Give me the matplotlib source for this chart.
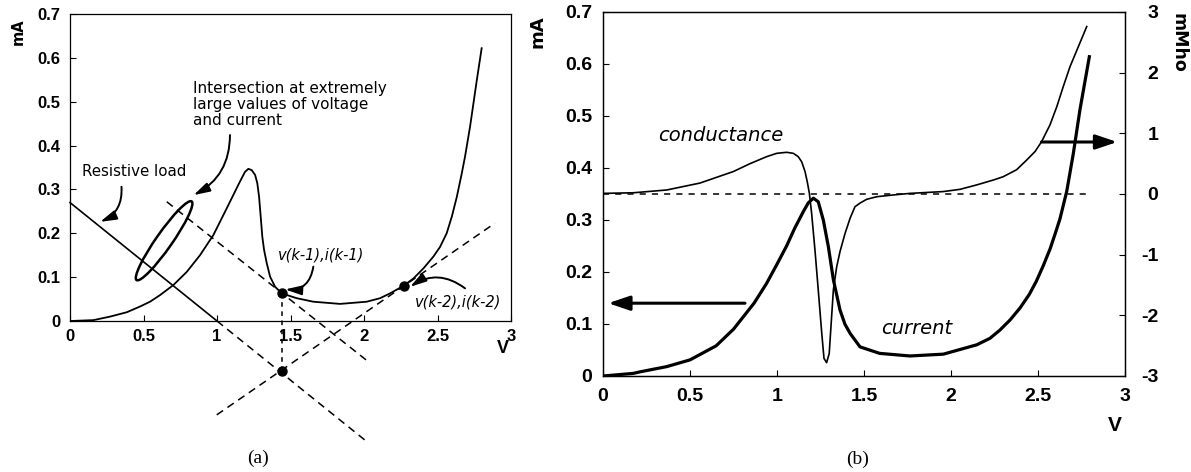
"""Tunnel-diode I-V curve: load-line iteration (a) and current/conductance (b)."""

import matplotlib

matplotlib.use("Agg")
import matplotlib.pyplot as plt
from matplotlib.patches import Ellipse
from matplotlib.transforms import ScaledTranslation

plt.rcParams["font.family"] = ["DejaVu Sans"]

# (a) diode current in mA against voltage in V
IV_A_V = [0.0, 0.159, 0.272, 0.386, 0.476, 0.544, 0.612, 0.703, 0.794, 0.884, 0.975,
          1.066, 1.156, 1.190, 1.213, 1.236, 1.259, 1.274, 1.286, 1.297, 1.308, 1.320,
          1.338, 1.361, 1.395, 1.440, 1.542, 1.655, 1.837, 2.018, 2.109, 2.177, 2.267,
          2.336, 2.404, 2.472, 2.517, 2.562, 2.597, 2.631, 2.665, 2.687, 2.721, 2.744,
          2.767, 2.80]
IV_A_I = [0.0, 0.002, 0.010, 0.020, 0.033, 0.044, 0.059, 0.082, 0.112, 0.150, 0.196,
          0.257, 0.318, 0.340, 0.347, 0.344, 0.333, 0.314, 0.283, 0.238, 0.192, 0.162,
          0.132, 0.101, 0.078, 0.063, 0.052, 0.044, 0.039, 0.044, 0.052, 0.063, 0.080,
          0.097, 0.120, 0.147, 0.169, 0.200, 0.238, 0.283, 0.337, 0.375, 0.443, 0.496,
          0.549, 0.622]

# load line (solid above the axis, dashed beyond) and the two companion lines
LOAD_V = [0.0, 1.0, 2.03]
LOAD_I = [0.27, 0.0, -0.278]
COMPANION1_V = [0.658, 2.03]
COMPANION1_I = [0.272, -0.093]
COMPANION2_V = [0.998, 2.89]
COMPANION2_I = [-0.214, 0.223]
STEP_V = [1.44, 1.44]
STEP_I = [0.063, -0.115]
POINT_V = [1.44, 2.27, 1.44]
POINT_I = [0.063, 0.080, -0.115]
ELLIPSE_CENTER = (0.64, 0.183)

# (b) current (mA) and small-signal conductance (mMho)
IV_B_V = [0.0, 0.174, 0.213, 0.366, 0.5, 0.65, 0.75, 0.868, 0.94, 1.0, 1.055, 1.10, 1.151,
          1.18, 1.209, 1.237, 1.266, 1.295, 1.324, 1.362, 1.39, 1.42, 1.477, 1.59, 1.764,
          1.956, 2.148, 2.224, 2.28, 2.34, 2.397, 2.45, 2.49, 2.53, 2.57, 2.60, 2.626,
          2.665, 2.703, 2.741, 2.795]
IV_B_I = [0.0, 0.005, 0.008, 0.018, 0.031, 0.058, 0.090, 0.140, 0.178, 0.215, 0.250, 0.283,
          0.316, 0.333, 0.342, 0.335, 0.30, 0.249, 0.185, 0.127, 0.100, 0.082, 0.056, 0.0435,
          0.0385, 0.042, 0.060, 0.0725, 0.088, 0.108, 0.131, 0.157, 0.182, 0.212, 0.245,
          0.275, 0.302, 0.355, 0.428, 0.512, 0.614]
COND_V = [0.0, 0.174, 0.366, 0.557, 0.749, 0.845, 0.94, 0.998, 1.055, 1.094, 1.122, 1.142,
          1.161, 1.174, 1.186, 1.199, 1.218, 1.237, 1.257, 1.27, 1.285, 1.30, 1.31, 1.324,
          1.343, 1.362, 1.391, 1.42, 1.448, 1.477, 1.515, 1.573, 1.668, 1.764, 1.956, 2.052,
          2.148, 2.243, 2.30, 2.377, 2.435, 2.483, 2.52, 2.569, 2.608, 2.645, 2.684, 2.732,
          2.78]
COND_G = [0.01, 0.02, 0.066, 0.18, 0.37, 0.50, 0.615, 0.67, 0.687, 0.67, 0.615, 0.53,
          0.37, 0.20, 0.01, -0.32, -0.92, -1.58, -2.29, -2.71, -2.78, -2.63, -2.19, -1.58,
          -1.20, -0.95, -0.65, -0.40, -0.21, -0.15, -0.088, -0.045, -0.016, 0.01, 0.04, 0.077,
          0.15, 0.23, 0.285, 0.40, 0.56, 0.70, 0.86, 1.14, 1.44, 1.77, 2.10, 2.43,
          2.76]
ZERO_V = [0.0, 2.79]
ZERO_G = [0.0, 0.0]

X_TICKS = [0, 0.5, 1, 1.5, 2, 2.5, 3]
X_LABELS = ["0", "0.5", "1", "1.5", "2", "2.5", "3"]
MA_TICKS = [0, 0.1, 0.2, 0.3, 0.4, 0.5, 0.6, 0.7]
MA_LABELS = ["0", "0.1", "0.2", "0.3", "0.4", "0.5", "0.6", "0.7"]
G_TICKS = [-3, -2, -1, 0, 1, 2, 3]
G_LABELS = ["-3", "-2", "-1", "0", "1", "2", "3"]

TICK_FONT = dict(family="Liberation Sans", fontweight="bold")

fig = plt.figure(figsize=(11.91, 4.72), dpi=100)
ax_a = fig.add_axes([0.0588, 0.3199, 0.3703, 0.6504])
ax_b = fig.add_axes([0.5063, 0.2034, 0.4383, 0.7712])
ax_g = ax_b.twinx()

for ax in (ax_a, ax_b, ax_g):
    for spine in ax.spines.values():
        spine.set_linewidth(0.9)

# ---- panel (a)
ax_a.set_xlim(0, 3)
ax_a.set_ylim(0, 0.7)
ax_a.set_xticks(X_TICKS, X_LABELS, fontsize=12, **TICK_FONT)
ax_a.set_yticks(MA_TICKS, MA_LABELS, fontsize=12, **TICK_FONT)
ax_a.tick_params(axis="both", direction="in", length=4, width=0.8)
ax_a.tick_params(axis="x", pad=6)
ax_a.tick_params(axis="y", pad=7)

ax_a.plot(IV_A_V, IV_A_I, color="black", lw=1.3)
ax_a.plot(LOAD_V[:2], LOAD_I[:2], color="black", lw=1.2, clip_on=False)
dash = dict(color="black", lw=1.1, dashes=(5, 3.5), clip_on=False)
ax_a.plot(LOAD_V[1:], LOAD_I[1:], **dash)
ax_a.plot(COMPANION1_V, COMPANION1_I, **dash)
ax_a.plot(COMPANION2_V, COMPANION2_I, **dash)
ax_a.plot(STEP_V, STEP_I, color="black", lw=1.1, dashes=(3, 3), clip_on=False)
ax_a.plot(POINT_V, POINT_I, "o", color="black", ms=6.5, clip_on=False, zorder=5)

# ellipse sized in pixels so its tilt is independent of the axis scales
ax_a.add_patch(Ellipse((0, 0), width=96, height=16, angle=55, fill=False,
                       lw=1.8, color="black",
                       transform=ScaledTranslation(*ELLIPSE_CENTER, ax_a.transData)))

thin_arrow = dict(arrowstyle="-|>,head_length=0.7,head_width=0.2", color="black",
                  lw=1.4, mutation_scale=14, shrinkA=0, shrinkB=0)
ax_a.text(0.08, 0.340, "Resistive load", fontsize=10.8, va="center", ha="left")
ax_a.annotate("", xy=(0.204, 0.226), xytext=(0.35, 0.306), annotation_clip=False,
              arrowprops=dict(connectionstyle="arc3,rad=-0.35", **thin_arrow))
ax_a.text(0.837, 0.494, "Intersection at extremely\nlarge values of voltage\nand current",
          fontsize=11, va="center", ha="left", linespacing=1.1)
ax_a.annotate("", xy=(0.84, 0.287), xytext=(1.088, 0.424), annotation_clip=False,
              arrowprops=dict(connectionstyle="arc3,rad=-0.3", **thin_arrow))
ax_a.text(1.707, 0.150, "v(k-1),i(k-1)", fontsize=10.5, style="italic",
          ha="center", va="center")
ax_a.annotate("", xy=(1.463, 0.072), xytext=(1.655, 0.124), annotation_clip=False,
              arrowprops=dict(connectionstyle="arc3,rad=-0.45", **thin_arrow))
ax_a.text(2.64, 0.044, "v(k-2),i(k-2)", fontsize=10.5, style="italic",
          ha="center", va="center")
ax_a.annotate("", xy=(2.313, 0.078), xytext=(2.687, 0.0745), annotation_clip=False,
              arrowprops=dict(connectionstyle="arc3,rad=0.35", **thin_arrow))

ax_a.text(-0.118, 0.941, "mA", transform=ax_a.transAxes, rotation=90, fontsize=10.5,
          fontweight="bold", ha="center", va="center")
ax_a.text(0.982, -0.088, "V", transform=ax_a.transAxes, fontsize=13,
          ha="center", va="center", **TICK_FONT)

# ---- panel (b)
ax_b.set_xlim(0, 3)
ax_b.set_ylim(0, 0.7)
ax_g.set_ylim(-3, 3)
ax_b.set_xticks(X_TICKS, X_LABELS, fontsize=14, **TICK_FONT)
ax_b.set_yticks(MA_TICKS, MA_LABELS, fontsize=14, **TICK_FONT)
ax_g.set_yticks(G_TICKS, G_LABELS, fontsize=14, ha="right", **TICK_FONT)
ax_b.tick_params(axis="both", direction="in", length=4, width=0.8)
ax_b.tick_params(axis="x", pad=9)
ax_b.tick_params(axis="y", pad=8)
ax_g.tick_params(axis="y", direction="in", length=4, width=0.8, pad=24)

ax_b.plot(IV_B_V, IV_B_I, color="black", lw=2.3)
ax_g.plot(COND_V, COND_G, color="black", lw=1.2)
ax_g.plot(ZERO_V, ZERO_G, color="black", lw=1.1, dashes=(4, 4))

thick_arrow = dict(arrowstyle="-|>,head_length=0.65,head_width=0.22", color="black",
                   lw=2.2, mutation_scale=20, shrinkA=0, shrinkB=0)
ax_b.annotate("", xy=(0.03, 0.140), xytext=(0.816, 0.140), arrowprops=thick_arrow)
ax_g.annotate("", xy=(2.955, 0.857), xytext=(2.52, 0.857), arrowprops=thick_arrow)

ax_b.text(0.678, 0.463, "conductance", fontsize=14, style="italic", ha="center", va="center")
ax_b.text(1.805, 0.092, "current", fontsize=14, style="italic", ha="center", va="center")

ax_b.text(-0.126, 0.945, "mA", transform=ax_b.transAxes, rotation=90, fontsize=13,
          fontweight="bold", ha="center", va="center")
ax_b.text(1.1015, 0.915, "mMho", transform=ax_b.transAxes, rotation=-90, fontsize=12.5,
          fontweight="bold", ha="center", va="center")
ax_b.text(0.981, -0.135, "V", transform=ax_b.transAxes, fontsize=15,
          ha="center", va="center", **TICK_FONT)

fig.text(0.2166, 0.0297, "(a)", family="Liberation Serif", fontsize=14, ha="center", va="center")
fig.text(0.7204, 0.0275, "(b)", family="Liberation Serif", fontsize=14, ha="center", va="center")

fig.savefig("out.png", dpi=100)
